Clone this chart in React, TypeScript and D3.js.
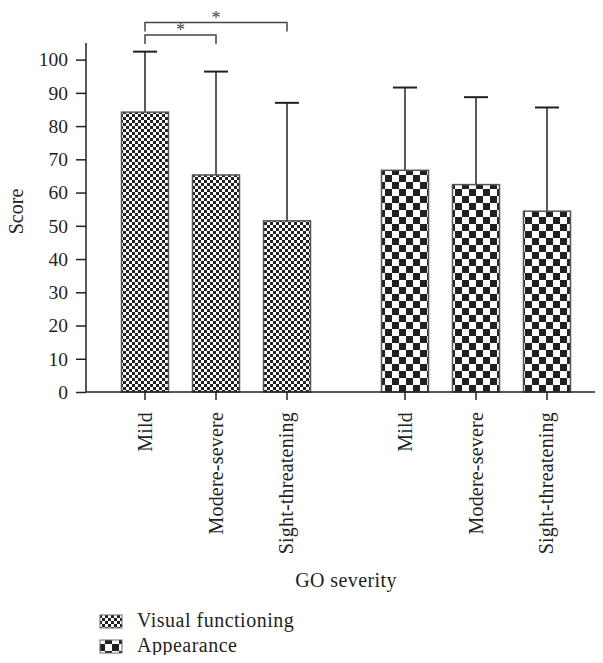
import React, { useEffect, useRef } from "react";
import * as d3 from "d3";

const groups = ["Visual functioning", "Appearance"];
const severities = ["Mild", "Modere-severe", "Sight-threatening"];
const visualMeans = [84.2, 65.3, 51.5];
const visualUpper = [102.4, 96.4, 87.0];
const appearanceMeans = [66.7, 62.4, 54.4];
const appearanceUpper = [91.6, 88.7, 85.6];
const yTicks = [0, 10, 20, 30, 40, 50, 60, 70, 80, 90, 100];

// significance brackets: [from index, to index, level]
const brackets: [number, number, number][] = [
  [0, 1, 0],
  [0, 2, 1],
];

const W = 603;
const H = 663;
const FONT = "'Liberation Serif', 'Times New Roman', serif";
const INK = "#231f20";

export default function App() {
  const svgRef = useRef<SVGSVGElement>(null);

  useEffect(() => {
    const svg = d3.select(svgRef.current);
    svg.selectAll("*").remove();

    const x0 = d3.scaleBand<string>().domain(groups).range([86, 606]).padding(0);
    const x1 = d3
      .scaleBand<string>()
      .domain(severities)
      .range([0, x0.bandwidth()])
      .paddingInner(0.338)
      .paddingOuter(0.5);
    const y = d3.scaleLinear().domain([0, 105]).range([392, 43]);

    // patterns
    const defs = svg.append("defs");
    const mkPattern = (id: string, cell: number) => {
      const p = defs
        .append("pattern")
        .attr("id", id)
        .attr("patternUnits", "userSpaceOnUse")
        .attr("width", cell * 2)
        .attr("height", cell * 2);
      p.append("rect").attr("width", cell * 2).attr("height", cell * 2).attr("fill", "#fff");
      p.append("rect").attr("width", cell).attr("height", cell).attr("fill", INK);
      p.append("rect").attr("x", cell).attr("y", cell).attr("width", cell).attr("height", cell).attr("fill", INK);
    };
    mkPattern("pat-visual", 3);
    mkPattern("pat-appear", 7);

    const data = [
      { group: groups[0], means: visualMeans, upper: visualUpper, pat: "pat-visual" },
      { group: groups[1], means: appearanceMeans, upper: appearanceUpper, pat: "pat-appear" },
    ];

    // y axis
    const yAxis = svg
      .append("g")
      .attr("transform", "translate(86,0)")
      .call(d3.axisLeft(y).tickValues(yTicks).tickSize(10).tickSizeOuter(0).tickPadding(8));
    yAxis.select(".domain").attr("stroke", INK).attr("stroke-width", 1.5).attr("d", `M0,${y(105)}V${y(0)}`);
    yAxis.selectAll(".tick line").attr("stroke", INK).attr("stroke-width", 1.5);
    yAxis
      .selectAll(".tick text")
      .attr("font-family", FONT)
      .attr("font-size", 19.5)
      .attr("fill", INK);

    svg
      .append("text")
      .attr("transform", `translate(23,${(y(0) + y(105)) / 2 - 6}) rotate(-90)`)
      .attr("text-anchor", "middle")
      .attr("font-family", FONT)
      .attr("font-size", 20)
      .attr("fill", INK)
      .text("Score");

    // bars + error bars
    data.forEach((g) => {
      const gx = x0(g.group)!;
      const bw = x1.bandwidth();
      severities.forEach((s, i) => {
        const bx = gx + x1(s)!;
        const cx = bx + bw / 2;
        // error bar
        svg
          .append("line")
          .attr("x1", cx)
          .attr("x2", cx)
          .attr("y1", y(g.means[i]))
          .attr("y2", y(g.upper[i]))
          .attr("stroke", "#5a5a5a")
          .attr("stroke-width", 2);
        svg
          .append("line")
          .attr("x1", cx - 12)
          .attr("x2", cx + 12)
          .attr("y1", y(g.upper[i]))
          .attr("y2", y(g.upper[i]))
          .attr("stroke", INK)
          .attr("stroke-width", 2);
        svg
          .append("rect")
          .attr("x", bx)
          .attr("y", y(g.means[i]))
          .attr("width", bw)
          .attr("height", y(0) - y(g.means[i]))
          .attr("fill", `url(#${g.pat})`)
          .attr("stroke", "#555")
          .attr("stroke-width", 1.5);

        // x tick + label
        svg
          .append("line")
          .attr("x1", cx)
          .attr("x2", cx)
          .attr("y1", y(0))
          .attr("y2", y(0) + 8)
          .attr("stroke", INK)
          .attr("stroke-width", 1.5);
        svg
          .append("text")
          .attr("transform", `translate(${cx + 6.5},${y(0) + 20}) rotate(-90)`)
          .attr("text-anchor", "end")
          .attr("font-family", FONT)
          .attr("font-size", 20)
          .attr("letter-spacing", 0.2)
          .attr("fill", INK)
          .text(s);
      });
    });

    // x axis line
    svg
      .append("line")
      .attr("x1", 86)
      .attr("x2", 600)
      .attr("y1", y(0))
      .attr("y2", y(0))
      .attr("stroke", INK)
      .attr("stroke-width", 1.5);

    svg
      .append("text")
      .attr("x", (86 + 606) / 2)
      .attr("y", 587)
      .attr("text-anchor", "middle")
      .attr("font-family", FONT)
      .attr("font-size", 20)
      .attr("letter-spacing", 0.4)
      .attr("fill", INK)
      .text("GO severity");

    // significance brackets
    const gx0 = x0(groups[0])!;
    const cxOf = (i: number) => gx0 + x1(severities[i])! + x1.bandwidth() / 2;
    brackets.forEach(([a, b, lvl]) => {
      const top = 35 - lvl * 12.5;
      svg
        .append("path")
        .attr("d", `M${cxOf(a)},${top + 9}V${top}H${cxOf(b)}V${top + 9}`)
        .attr("fill", "none")
        .attr("stroke", "#444")
        .attr("stroke-width", 1.5);
      svg
        .append("text")
        .attr("x", (cxOf(a) + cxOf(b)) / 2)
        .attr("y", top + 1)
        .attr("text-anchor", "middle")
        .attr("font-family", FONT)
        .attr("font-size", 18)
        .attr("fill", "#444")
        .text("*");
    });

    // legend
    data.forEach((g, i) => {
      const ly = 615 + i * 25;
      svg
        .append("rect")
        .attr("x", 100)
        .attr("y", ly)
        .attr("width", 22)
        .attr("height", 13)
        .attr("fill", `url(#${g.pat})`)
        .attr("stroke", "#6b6b6b")
        .attr("stroke-width", 1);
      svg
        .append("text")
        .attr("x", 137)
        .attr("y", ly + 12)
        .attr("font-family", FONT)
        .attr("font-size", 20)
        .attr("letter-spacing", 0.5)
        .attr("fill", INK)
        .text(g.group);
    });
  }, []);

  return (
    <div style={{ margin: -8 }}>
      <svg ref={svgRef} width={W} height={H} style={{ display: "block", background: "#fff" }}></svg>
    </div>
  );
}
